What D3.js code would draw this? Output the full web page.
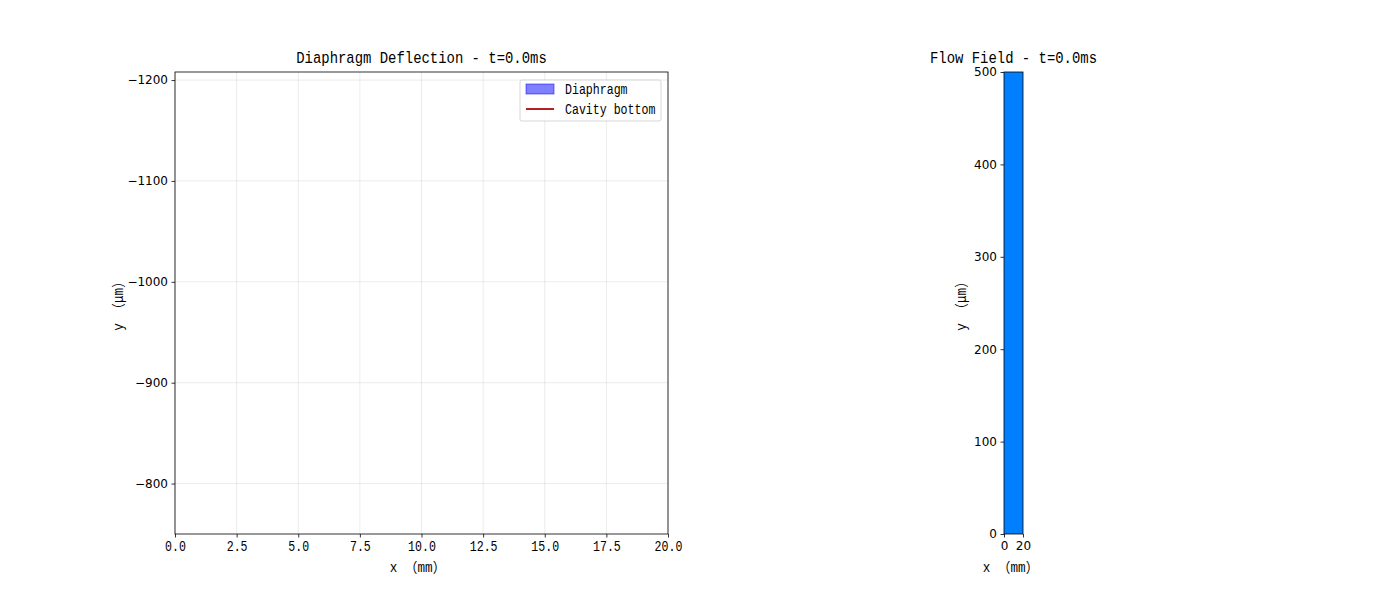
<!DOCTYPE html>
<html><head><meta charset="utf-8">
<script src="https://cdn.jsdelivr.net/npm/d3@7"></script>
<style>body{margin:0;background:#fff}</style>
</head><body>
<svg id="c" width="1400" height="600"></svg>
<script>
// ---- data ----
const timeLabel = "t=0.0ms";
const diaphragmX = [0, 2.5, 5, 7.5, 10, 12.5, 15, 17.5, 20];
const diaphragmY = [0, 0, 0, 0, 0, 0, 0, 0, 0];
const cavityBottomY = [0, 0, 0, 0, 0, 0, 0, 0, 0];
const leftXTicks = [0, 2.5, 5, 7.5, 10, 12.5, 15, 17.5, 20];
const leftYTicks = [-800, -900, -1000, -1100, -1200];
const leftXDomain = [0, 20];
const leftYDomain = [-750, -1208];
const flowXDomain = [0, 20];
const flowYDomain = [0, 500];
const flowXTicks = [0, 20];
const flowYTicks = [0, 100, 200, 300, 400, 500];
const flowCells = [{x0: 0, x1: 20, y0: 0, y1: 500, v: 0}];
const legendItems = ["Diaphragm", "Cavity bottom"];

const svg = d3.select("#c");
const mono = "'Liberation Mono', 'DejaVu Sans Mono', 'Noto Sans CJK SC', monospace";
const sans = "'DejaVu Sans', sans-serif";

// half-width monospace look: each ASCII char = 0.5em, full-width = 1em
function unitLen(s) { let n = 0; for (const ch of s) n += (ch.charCodeAt(0) > 0x2000 ? 2 : 1); return n; }
function mono_(sel, size) {
  sel.attr("font-family", mono).attr("font-size", size)
     .attr("lengthAdjust", "spacingAndGlyphs")
     .attr("textLength", function() { return unitLen(this.textContent) * size * 0.5; });
  return sel;
}

// ---- left panel ----
const L = {x0: 175, x1: 668, y0: 72, y1: 534};
const x = d3.scaleLinear().domain(leftXDomain).range([L.x0, L.x1]);
const y = d3.scaleLinear().domain(leftYDomain).range([L.y1, L.y0]);

const g = svg.append("g");
g.selectAll(".gx").data(leftXTicks).join("line")
  .attr("x1", d => x(d)).attr("x2", d => x(d)).attr("y1", L.y0).attr("y2", L.y1)
  .attr("stroke", "#000").attr("stroke-opacity", 0.1).attr("stroke-width", 0.8);
g.selectAll(".gy").data(leftYTicks).join("line")
  .attr("x1", L.x0).attr("x2", L.x1).attr("y1", d => y(d)).attr("y2", d => y(d))
  .attr("stroke", "#000").attr("stroke-opacity", 0.1).attr("stroke-width", 0.8);

svg.append("clipPath").attr("id", "clipL").append("rect")
  .attr("x", L.x0).attr("y", L.y0).attr("width", L.x1 - L.x0).attr("height", L.y1 - L.y0);
const plot = g.append("g").attr("clip-path", "url(#clipL)");
const pts = diaphragmX.map((d, i) => ({x: d, y: diaphragmY[i], c: cavityBottomY[i]}));
plot.append("path").datum(pts)
  .attr("d", d3.area().x(d => x(d.x)).y0(d => y(d.y)).y1(d => y(d.y)))
  .attr("fill", "#0000ff").attr("fill-opacity", 0.5);
plot.append("path").datum(pts)
  .attr("d", d3.line().x(d => x(d.x)).y(d => y(d.c)))
  .attr("fill", "none").attr("stroke", "#b22222").attr("stroke-width", 2);

const xAxis = d3.axisBottom(x).tickValues(leftXTicks).tickFormat(d3.format(".1f")).tickSizeOuter(0).tickSize(3.5).tickPadding(3.5);
const gxA = g.append("g").attr("transform", `translate(0,${L.y1})`).call(xAxis);
mono_(gxA.selectAll("text"), 13.9).attr("fill", "#000");
const yAxis = d3.axisLeft(y).tickValues(leftYTicks).tickFormat(d => "\u2212" + Math.abs(d)).tickSizeOuter(0).tickSize(3.5).tickPadding(3.5);
const gyA = g.append("g").attr("transform", `translate(${L.x0},0)`).call(yAxis);
gyA.selectAll("text").attr("font-family", sans).attr("font-size", 12).attr("fill", "#000");
[gxA, gyA].forEach(a => { a.select(".domain").remove(); a.selectAll("line").attr("stroke", "#000").attr("stroke-width", 0.8); });
g.append("rect").attr("x", L.x0).attr("y", L.y0).attr("width", L.x1 - L.x0).attr("height", L.y1 - L.y0)
  .attr("fill", "none").attr("stroke", "#000").attr("stroke-width", 0.8);

mono_(g.append("text").attr("x", (L.x0 + L.x1) / 2).attr("y", 63).attr("text-anchor", "middle")
  .text("Diaphragm Deflection - " + timeLabel), 16.7);
mono_(g.append("text").attr("x", (L.x0 + L.x1) / 2 - 4).attr("y", 572).attr("text-anchor", "middle")
  .text("x \uff08mm\uff09"), 13.9);
mono_(g.append("text").attr("transform", `translate(123,${(L.y0 + L.y1) / 2}) rotate(-90)`).attr("text-anchor", "middle")
  .text("y \uff08\u03bcm\uff09"), 13.9);

// legend
const lg = g.append("g").attr("transform", "translate(520,80)");
lg.append("rect").attr("width", 141).attr("height", 41).attr("rx", 2)
  .attr("fill", "#fff").attr("fill-opacity", 0.8).attr("stroke", "#ccc").attr("stroke-width", 0.8);
lg.append("rect").attr("x", 6).attr("y", 4).attr("width", 28).attr("height", 10)
  .attr("fill", "#0000ff").attr("fill-opacity", 0.5).attr("stroke", "#0000ff").attr("stroke-opacity", 0.5);
lg.append("line").attr("x1", 6).attr("x2", 34).attr("y1", 29).attr("y2", 29)
  .attr("stroke", "#b22222").attr("stroke-width", 2);
mono_(lg.selectAll("text.li").data(legendItems).join("text").attr("class", "li")
  .attr("x", 45).attr("y", (d, i) => 14 + i * 19.5).text(d => d), 13.9);

// ---- right panel ----
const R = {x0: 1004, x1: 1023, y0: 72, y1: 534};
const fx = d3.scaleLinear().domain(flowXDomain).range([R.x0, R.x1]);
const fy = d3.scaleLinear().domain(flowYDomain).range([R.y1, R.y0]);
const color = () => "#0080ff";
const gr = svg.append("g");
gr.selectAll("rect.cell").data(flowCells).join("rect").attr("class", "cell")
  .attr("x", d => fx(d.x0)).attr("y", d => fy(d.y1))
  .attr("width", d => fx(d.x1) - fx(d.x0)).attr("height", d => fy(d.y0) - fy(d.y1))
  .attr("fill", d => color(d.v));
const fxA = gr.append("g").attr("transform", `translate(0,${R.y1})`)
  .call(d3.axisBottom(fx).tickValues(flowXTicks).tickFormat(d3.format("d")).tickSizeOuter(0).tickSize(3.5).tickPadding(3.5));
const fyA = gr.append("g").attr("transform", `translate(${R.x0},0)`)
  .call(d3.axisLeft(fy).tickValues(flowYTicks).tickFormat(d3.format("d")).tickSizeOuter(0).tickSize(3.5).tickPadding(3.5));
[fxA, fyA].forEach(a => {
  a.select(".domain").remove();
  a.selectAll("line").attr("stroke", "#000").attr("stroke-width", 0.8);
  a.selectAll("text").attr("font-family", sans).attr("font-size", 12).attr("fill", "#000");
});
gr.append("rect").attr("x", R.x0).attr("y", R.y0).attr("width", R.x1 - R.x0).attr("height", R.y1 - R.y0)
  .attr("fill", "none").attr("stroke", "#000").attr("stroke-width", 0.8);
mono_(gr.append("text").attr("x", (R.x0 + R.x1) / 2).attr("y", 63).attr("text-anchor", "middle")
  .text("Flow Field - " + timeLabel), 16.7);
mono_(gr.append("text").attr("x", (R.x0 + R.x1) / 2 - 3).attr("y", 572).attr("text-anchor", "middle")
  .text("x \uff08mm\uff09"), 13.9);
mono_(gr.append("text").attr("transform", `translate(966,${(R.y0 + R.y1) / 2}) rotate(-90)`).attr("text-anchor", "middle")
  .text("y \uff08\u03bcm\uff09"), 13.9);
</script>
</body></html>
